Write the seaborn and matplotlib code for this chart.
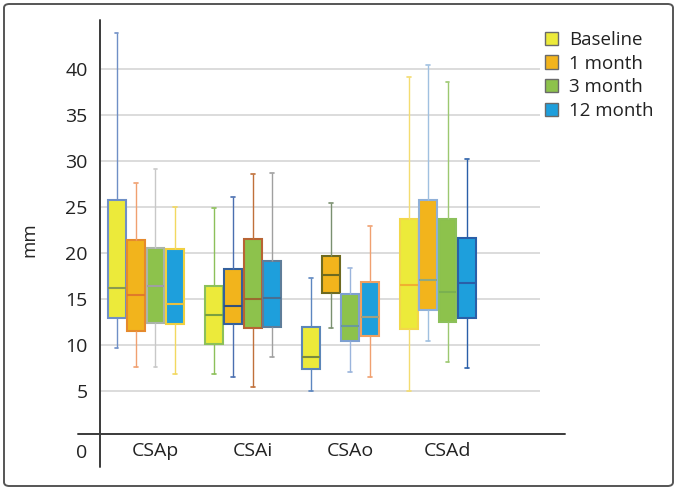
import matplotlib
matplotlib.use('Agg')
import matplotlib.pyplot as plt
from matplotlib.patches import Patch, FancyBboxPatch
from matplotlib.transforms import ScaledTranslation
import seaborn as sns
import pandas as pd
import numpy as np

sites = ['CSAp', 'CSAi', 'CSAo', 'CSAd']
times = ['Baseline', '1 month', '3 month', '12 month']

# five-number summaries (mm), rows = site, cols = time point
whisker_low = [[9.7, 7.65, 7.65, 6.85],
               [6.85, 6.5, 5.45, 8.7],
               [5.0, 11.8, 7.1, 6.5],
               [5.0, 10.4, 8.2, 7.55]]
q1 = [[12.9, 11.55, 12.4, 12.3],
      [10.1, 12.3, 11.85, 12.0],
      [7.35, 15.7, 10.4, 11.0],
      [11.7, 13.8, 12.5, 12.9]]
median = [[16.2, 15.4, 16.45, 14.4],
          [13.3, 14.2, 15.0, 15.1],
          [8.7, 17.6, 12.1, 13.0],
          [16.5, 17.1, 15.8, 16.7]]
q3 = [[25.7, 21.4, 20.5, 20.4],
      [16.45, 18.3, 21.5, 19.1],
      [11.9, 19.7, 15.5, 16.8],
      [23.7, 25.8, 23.7, 21.6]]
whisker_high = [[43.9, 27.6, 29.1, 25.0],
                [24.9, 26.1, 28.55, 28.7],
                [17.3, 25.4, 18.4, 22.9],
                [39.1, 40.4, 38.55, 30.2]]
yticks = [5, 10, 15, 20, 25, 30, 35, 40]

# colours
fill = ['#ecea3a', '#f2b41c', '#8dc24c', '#1e9fdc']
edge = [['#6f8fc6', '#e58a2c', '#aab4aa', '#f0d040'],
        ['#8cc05a', '#34609c', '#b86434', '#5f7d99'],
        ['#5c86b8', '#6e6a20', '#7ea0d0', '#f0a060'],
        ['#f2d84a', '#8fb0d8', '#8cc05a', '#2a5fa8']]
whisk = [['#6f8fc6', '#f0a070', '#c8c8c8', '#f2d860'],
         ['#8cc05a', '#4a6fb0', '#c0703a', '#a0a0a0'],
         ['#5c86c0', '#7a9070', '#9ab4dc', '#f0a070'],
         ['#f4dc70', '#a0c0e0', '#9cc870', '#2a5fa8']]
med = [['#8a9a50', '#e07a2a', '#a0a0a0', '#e8c040'],
       ['#7aa040', '#33507a', '#9a6a30', '#4a6f90'],
       ['#7a8a40', '#6e6a20', '#6a9a9a', '#a0a080'],
       ['#f0b030', '#90a880', '#7ab050', '#2a5fa8']]

rows = []
for i, s in enumerate(sites):
    for j, t in enumerate(times):
        for v in (whisker_low[i][j], q1[i][j], median[i][j], q3[i][j], whisker_high[i][j]):
            rows.append({'site': s, 'time': t, 'mm': v})
df = pd.DataFrame(rows)

sns.set_style('white')
plt.rcParams['font.family'] = ['Open Sans', 'DejaVu Sans']
plt.rcParams['text.color'] = '#222222'

fig = plt.figure(figsize=(6.77, 4.9), dpi=100)
ax = fig.add_axes([100/677, 56/490, 440/677, 414/490])

sns.boxplot(data=df, x='site', y='mm', hue='time', order=sites, hue_order=times,
            palette=fill, saturation=1, width=0.8, gap=0.08, whis=(0, 100),
            legend=False, ax=ax)

for h, cont in enumerate(ax.containers):
    for c in range(len(sites)):
        box = cont.boxes[c]
        box.set_edgecolor(edge[c][h])
        box.set_linewidth(1.5)
        for w in cont.whiskers[2*c:2*c+2]:
            w.set_color(whisk[c][h])
            w.set_linewidth(1.0)
        for cap in cont.caps[2*c:2*c+2]:
            mid = np.mean(cap.get_xdata())
            cap.set_xdata([mid - 0.02, mid + 0.02])
            cap.set_color(whisk[c][h])
            cap.set_linewidth(1.2)
        cont.medians[c].set_color(med[c][h])
        cont.medians[c].set_linewidth(1.5)

ax.set_xlim(-0.47, 4.05)
ax.set_ylim(0.33, 45.3)
ax.set_yticks(yticks)
ax.yaxis.grid(True, color='#d6d6d6', linewidth=1.2)
ax.set_axisbelow(True)
for sp in ax.spines.values():
    sp.set_visible(False)
ax.tick_params(axis='both', length=0, labelsize=14, labelcolor='#222222')
ax.tick_params(axis='y', pad=9)
ax.tick_params(axis='x', pad=6)
ax.set_xlabel('')
ax.set_ylabel('mm', fontsize=13.5)
ax.yaxis.set_label_coords(-0.141, 0.469)

offset = ScaledTranslation(0.1, 0, fig.dpi_scale_trans)
for lab in ax.get_xticklabels():
    lab.set_transform(lab.get_transform() + offset)

# axis lines extending beyond the plot area
ax.plot([0, 0], [1, -(467-434)/414], transform=ax.transAxes, clip_on=False,
        color='#3a3a3a', lw=1.4)
ax.plot([(78-100)/440, (565-100)/440], [0, 0], transform=ax.transAxes, clip_on=False,
        color='#3a3a3a', lw=1.4)
fig.text(82/677, 1 - 453/490, '0', ha='center', va='center', fontsize=14)

handles = [Patch(facecolor=f, edgecolor='#6a6a6a', linewidth=1.0) for f in fill]
fig.legend(handles, times, loc='upper left', bbox_to_anchor=(545/677, 1 - 31/490),
           frameon=False, fontsize=13.5, handlelength=0.7, handleheight=0.7,
           handletextpad=0.6, labelspacing=0.3, borderpad=0, borderaxespad=0)

frame = FancyBboxPatch((4/677, 4/490), 669/677, 482/490,
                       boxstyle='round,pad=0,rounding_size=0.008',
                       transform=fig.transFigure, fill=False,
                       edgecolor='#555555', lw=1.4)
fig.add_artist(frame)

fig.savefig('out.png', dpi=100)
